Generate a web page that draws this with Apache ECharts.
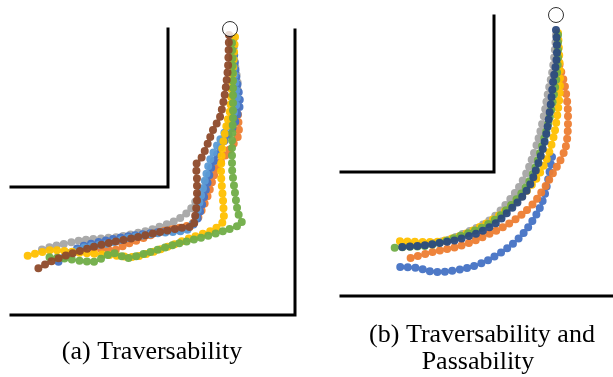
<!DOCTYPE html>
<html><head><meta charset="utf-8">
<script src="https://cdn.jsdelivr.net/npm/echarts@6/dist/echarts.min.js"></script>
<style>html,body{margin:0;padding:0;background:#fff}#c{width:613px;height:377px}</style>
</head><body><div id="c"></div>
<script>
// Panel (a): Traversability — trajectory samples (image-space units)
const aGray = [[231,38],[235,65],[238,87],[232,115],[223,140],[213,167],[200,193],[190,210],[177,220],[150,230],[117,237],[83,240],[50,247],[40,250]];
const aOrange = [[232,40],[236,80],[238,115],[239,133],[227,153],[216,170],[208,195],[198,218],[190,225],[160,232],[125,245],[115,250],[90,248]];
const aBlue = [[233,40],[236,75],[240,103],[234,125],[222,145],[212,165],[207,185],[202,205],[196,222],[185,230],[160,232],[130,236],[108,240],[80,247],[58,262]];
const aLightBlue = [[232,38],[234,70],[237,100],[230,123],[220,140],[210,160],[205,180],[200,200],[195,220],[187,230],[160,233],[133,237],[110,243],[83,248],[60,260]];
const aYellow = [[235,37],[233,70],[230,110],[227,123],[222,150],[221,173],[223,200],[224,220],[213,230],[193,237],[167,247],[133,257],[110,255],[83,253],[53,250],[27,256]];
const aGreen = [[232,43],[233,83],[233,117],[232,143],[232,167],[235,193],[238,213],[242,223],[227,230],[200,238],[173,245],[150,252],[127,258],[113,253],[93,262],[60,258],[43,257]];
const aBrown = [[229,35],[228,67],[225,93],[220,117],[213,130],[208,143],[202,157],[196,165],[197,180],[197,200],[195,217],[193,227],[187,227],[180,228],[160,232],[133,238],[113,242],[93,247],[67,255],[50,262],[37,269]];
// Panel (b): Traversability and Passability
const bBlue = [[552,157],[548,180],[543,200],[533,220],[517,240],[497,255],[477,265],[457,270],[437,272],[417,268],[400,267]];
const bOrange = [[557,50],[560,67],[565,87],[568,117],[567,140],[562,157],[553,173],[543,190],[530,207],[510,223],[487,235],[463,245],[433,252],[407,259]];
const bGray = [[556,35],[553,67],[548,93],[543,120],[535,150],[523,180],[507,203],[490,220],[465,233],[440,242],[410,245]];
const bYellow = [[558,33],[560,83],[557,117],[552,143],[543,167],[530,187],[510,207],[487,223],[457,237],[430,242],[397,241]];
const bGreen = [[558,35],[558,53],[553,100],[543,143],[530,180],[513,203],[490,223],[463,235],[430,245],[407,247],[392,248]];
const bNavy = [[556,30],[557,50],[553,83],[550,110],[545,140],[537,167],[527,190],[510,210],[490,227],[463,238],[440,243],[417,246],[400,247]];
// Walls
const aInner = [[11,187],[168,187],[168,29]];
const aOuter = [[11,315],[295,315],[295,30]];
const bInner = [[341,172],[494,172],[494,16]];
const bOuter = [[341,296],[613,296]];
// Start markers
const starts = [[230,29],[556,15]];
const captions = ['(a) Traversability', '(b) Traversability and', 'Passability'];

const chart = echarts.init(document.getElementById('c'), null, {renderer:'canvas'});
function traj(data, color, smooth){
  return {type:'line', data, smooth, showSymbol:false, silent:true, animation:false,
    lineStyle:{color, width:8, type:[0,7.5], cap:'round', opacity:0.95}};
}
function wall(data){
  return {type:'line', data, showSymbol:false, silent:true, animation:false,
    lineStyle:{color:'#000', width:3, cap:'square', join:'miter'}};
}
chart.setOption({
  animation:false,
  backgroundColor:'#fff',
  grid:{left:0,right:0,top:0,bottom:0},
  xAxis:{type:'value',min:0,max:613,show:false},
  yAxis:{type:'value',min:0,max:377,inverse:true,show:false},
  series:[
    wall(aInner), wall(aOuter), wall(bInner), wall(bOuter),
    traj(aGray,'#A5A5A5',0.2), traj(aOrange,'#ED7D31',0.2), traj(aBlue,'#4472C4',0.2),
    traj(aLightBlue,'#5B9BD5',0.2), traj(aYellow,'#FFC000',0.2), traj(aGreen,'#70AD47',0.2),
    traj(aBrown,'#8E4A2A',0.2),
    traj(bBlue,'#4472C4',0.4), traj(bOrange,'#ED7D31',0.4), traj(bGray,'#A5A5A5',0.4),
    traj(bYellow,'#FFC000',0.4), traj(bGreen,'#70AD47',0.4), traj(bNavy,'#2B4A7E',0.4),
    {type:'scatter', data:starts, symbol:'circle', symbolSize:15, silent:true, z:10,
     itemStyle:{color:'#fff', borderColor:'#000', borderWidth:1}}
  ],
  graphic:[
    {type:'text', x:152, y:352, style:{text:captions[0], font:'26px "Liberation Serif"', fill:'#000', align:'center', verticalAlign:'middle'}},
    {type:'text', x:482, y:335, style:{text:captions[1], font:'26px "Liberation Serif"', fill:'#000', align:'center', verticalAlign:'middle'}},
    {type:'text', x:478, y:362, style:{text:captions[2], font:'26px "Liberation Serif"', fill:'#000', align:'center', verticalAlign:'middle'}}
  ]
});
</script></body></html>
